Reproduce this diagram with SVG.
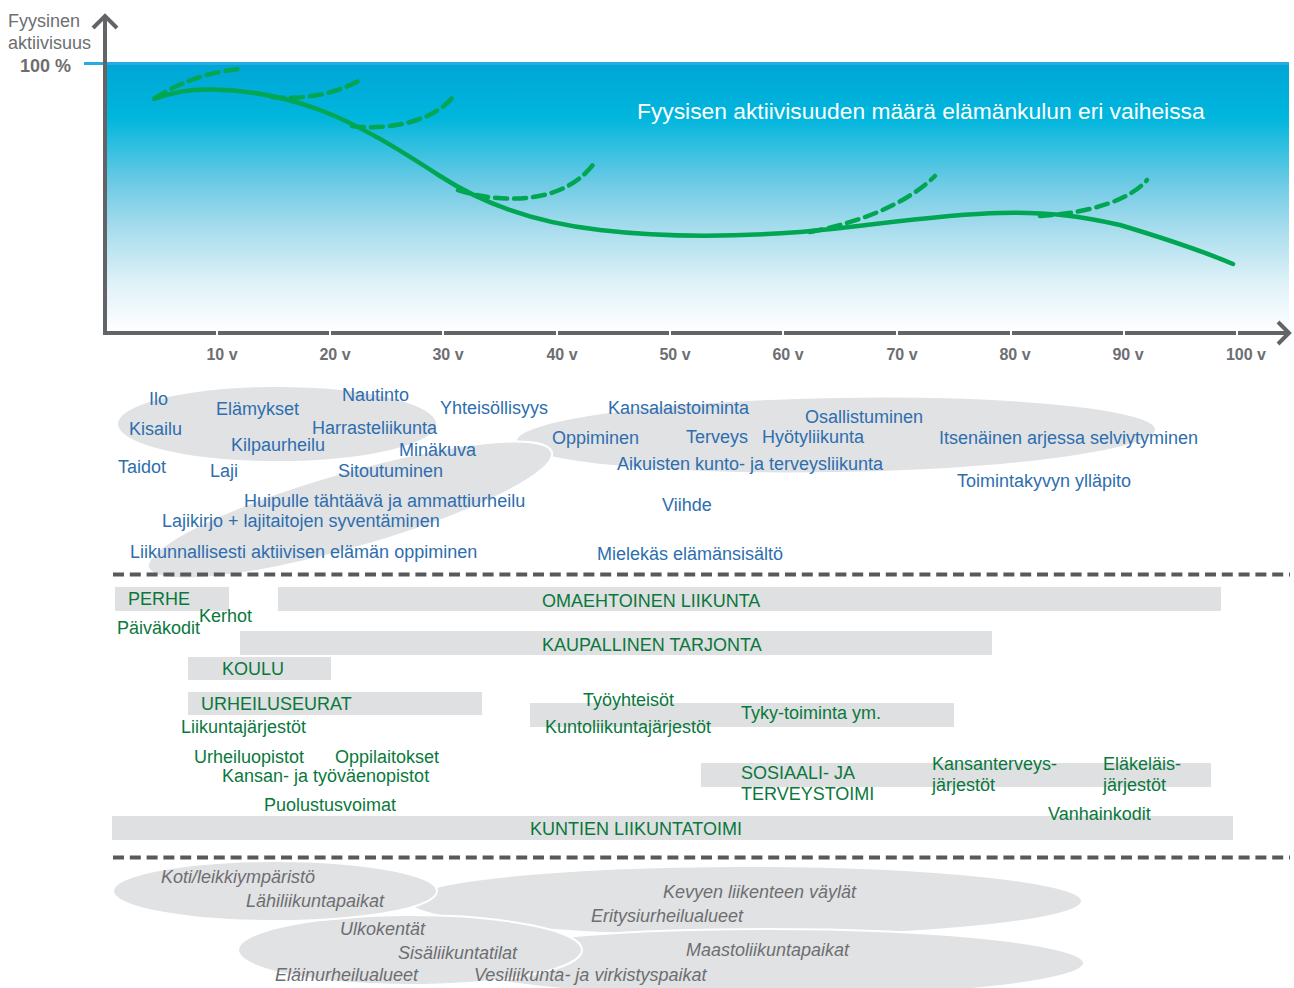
<svg xmlns="http://www.w3.org/2000/svg" width="1294" height="988" viewBox="0 0 1294 988">
<defs>
<linearGradient id="sky" x1="0" y1="0" x2="0" y2="1">
<stop offset="0" stop-color="#00a6d6"/>
<stop offset="0.2" stop-color="#00b6dd"/>
<stop offset="0.45" stop-color="#6fcbe5"/>
<stop offset="0.62" stop-color="#a9dded"/>
<stop offset="0.82" stop-color="#dff2f8"/>
<stop offset="1" stop-color="#ffffff"/>
</linearGradient>
<style>
text{font-family:"Liberation Sans",Arial,sans-serif;font-size:18px}
.b{fill:#2e6eae}
.g{fill:#0a783c}
.i{fill:#6d6e71;font-style:italic}
.ax{fill:#6d6e71;font-weight:bold;font-size:16px;text-anchor:middle}
.yl{fill:#6d6e71}
.blob{fill:#e1e2e4;stroke:#ffffff;stroke-width:2}
.bar{fill:#dfe0e2}
.sep{stroke:#58595b;stroke-width:4;stroke-dasharray:11 5.8;fill:none}
.main{fill:none;stroke:#00a651;stroke-width:4.5;stroke-linecap:round}
.alt{fill:none;stroke:#00a651;stroke-width:4.5;stroke-dasharray:12 7;stroke-linecap:round}
.axis{fill:none;stroke:#636466;stroke-width:4}
</style>
</defs>
<rect width="1294" height="988" fill="#ffffff"/>

<g id="chart">
<rect x="105" y="64" width="1184" height="268" fill="url(#sky)"/>
<line x1="84" y1="63.5" x2="1289" y2="63.5" stroke="#27aae1" stroke-width="3"/>
<path class="axis" d="M105,333 V17 M93,28 L105,16 L117,28"/>
<path class="axis" d="M103,333 H1289 M1278,322 L1289,333 L1278,344"/>
<g fill="#ffffff">
<rect x="216" y="330" width="2" height="6"/>
<rect x="329" y="330" width="2" height="6"/>
<rect x="442" y="330" width="2" height="6"/>
<rect x="556" y="330" width="2" height="6"/>
<rect x="669" y="330" width="2" height="6"/>
<rect x="782" y="330" width="2" height="6"/>
<rect x="896" y="330" width="2" height="6"/>
<rect x="1010" y="330" width="2" height="6"/>
<rect x="1123" y="330" width="2" height="6"/>
<rect x="1236" y="330" width="2" height="6"/>
</g>
<text class="yl" x="8" y="27">Fyysinen</text>
<text class="yl" x="8" y="49">aktiivisuus</text>
<text class="yl" x="20" y="72" font-weight="bold">100 %</text>
<text x="637" y="119" fill="#ffffff" style="font-size:22.8px">Fyysisen aktiivisuuden määrä elämänkulun eri vaiheissa</text>
<text class="ax" x="222" y="359.5">10 v</text>
<text class="ax" x="335" y="359.5">20 v</text>
<text class="ax" x="448" y="359.5">30 v</text>
<text class="ax" x="562" y="359.5">40 v</text>
<text class="ax" x="675" y="359.5">50 v</text>
<text class="ax" x="788" y="359.5">60 v</text>
<text class="ax" x="902" y="359.5">70 v</text>
<text class="ax" x="1015" y="359.5">80 v</text>
<text class="ax" x="1128" y="359.5">90 v</text>
<text class="ax" x="1246" y="359.5">100 v</text>
</g>

<g id="connectors">
<path class="main" d="M154,99 C175,91 195,89 212,89.5 C250,90 285,97 320,110 C360,125 400,150 440,176 C480,202 530,222 600,230 C660,237 720,238 800,232 C860,227 940,214 1000,213 C1050,212 1080,216 1120,225 C1160,237 1200,250 1233,264"/>
<path class="alt" d="M155,98 C175,85 205,72 240,69"/>
<path class="alt" d="M272,97 C300,100 335,95 362,79"/>
<path class="alt" d="M352,126 C380,130 430,125 453,97"/>
<path class="alt" d="M458,190 C500,204 565,205 595,162"/>
<path class="alt" d="M810,232 C860,222 905,205 935,176"/>
<path class="alt" d="M1040,216 C1090,213 1130,200 1147,180"/>
</g>

<g id="values">
<ellipse class="blob" cx="277" cy="424" rx="160" ry="38"/>
<ellipse class="blob" cx="836" cy="435" rx="320" ry="38" transform="rotate(-1 836 435)"/>
<ellipse class="blob" cx="350" cy="510" rx="210" ry="38" transform="rotate(-16 350 510)"/>
<text class="b" x="149" y="405">Ilo</text>
<text class="b" x="216" y="415">Elämykset</text>
<text class="b" x="342" y="401">Nautinto</text>
<text class="b" x="440" y="414">Yhteisöllisyys</text>
<text class="b" x="129" y="435">Kisailu</text>
<text class="b" x="312" y="434">Harrasteliikunta</text>
<text class="b" x="231" y="451">Kilpaurheilu</text>
<text class="b" x="399" y="456">Minäkuva</text>
<text class="b" x="118" y="473">Taidot</text>
<text class="b" x="210" y="477">Laji</text>
<text class="b" x="338" y="477">Sitoutuminen</text>
<text class="b" x="244" y="507">Huipulle tähtäävä ja ammattiurheilu</text>
<text class="b" x="162" y="527">Lajikirjo + lajitaitojen syventäminen</text>
<text class="b" x="130" y="558">Liikunnallisesti aktiivisen elämän oppiminen</text>
<text class="b" x="608" y="414">Kansalaistoiminta</text>
<text class="b" x="805" y="423">Osallistuminen</text>
<text class="b" x="552" y="444">Oppiminen</text>
<text class="b" x="686" y="443">Terveys</text>
<text class="b" x="762" y="443">Hyötyliikunta</text>
<text class="b" x="939" y="444">Itsenäinen arjessa selviytyminen</text>
<text class="b" x="617" y="470">Aikuisten kunto- ja terveysliikunta</text>
<text class="b" x="957" y="487">Toimintakyvyn ylläpito</text>
<text class="b" x="662" y="511">Viihde</text>
<text class="b" x="597" y="560">Mielekäs elämänsisältö</text>
</g>

<line class="sep" x1="113" y1="574.5" x2="1290" y2="574.5"/>

<g id="actors">
<rect class="bar" x="115" y="587" width="114" height="24"/>
<rect class="bar" x="278" y="587" width="943" height="24"/>
<rect class="bar" x="240" y="631" width="752" height="24"/>
<rect class="bar" x="188" y="657" width="143" height="23"/>
<rect class="bar" x="188" y="692" width="294" height="23"/>
<rect class="bar" x="530" y="703" width="424" height="24"/>
<rect class="bar" x="701" y="763" width="510" height="24"/>
<rect class="bar" x="112" y="816" width="1121" height="24"/>
<text class="g" x="128" y="604.5">PERHE</text>
<text class="g" x="542" y="606.5">OMAEHTOINEN LIIKUNTA</text>
<text class="g" x="117" y="634">Päiväkodit</text>
<text class="g" x="199" y="622">Kerhot</text>
<text class="g" x="542" y="650.5">KAUPALLINEN TARJONTA</text>
<text class="g" x="222" y="675">KOULU</text>
<text class="g" x="201" y="710">URHEILUSEURAT</text>
<text class="g" x="181" y="733">Liikuntajärjestöt</text>
<text class="g" x="583" y="706">Työyhteisöt</text>
<text class="g" x="545" y="733">Kuntoliikuntajärjestöt</text>
<text class="g" x="741" y="719">Tyky-toiminta ym.</text>
<text class="g" x="194" y="762.5">Urheiluopistot</text>
<text class="g" x="335" y="762.5">Oppilaitokset</text>
<text class="g" x="222" y="782">Kansan- ja työväenopistot</text>
<text class="g" x="264" y="811">Puolustusvoimat</text>
<text class="g" x="741" y="779">SOSIAALI- JA</text>
<text class="g" x="741" y="800">TERVEYSTOIMI</text>
<text class="g" x="932" y="770">Kansanterveys-</text>
<text class="g" x="932" y="791">järjestöt</text>
<text class="g" x="1103" y="770">Eläkeläis-</text>
<text class="g" x="1103" y="791">järjestöt</text>
<text class="g" x="1048" y="820">Vanhainkodit</text>
<text class="g" x="530" y="834.5">KUNTIEN LIIKUNTATOIMI</text>
</g>

<line class="sep" x1="113" y1="857.5" x2="1290" y2="857.5"/>

<g id="places">
<ellipse class="blob" cx="745" cy="901" rx="337" ry="35"/>
<ellipse class="blob" cx="767" cy="963" rx="317" ry="34"/>
<ellipse class="blob" cx="410" cy="950" rx="172" ry="35"/>
<ellipse class="blob" cx="275" cy="891" rx="162" ry="30"/>
<text class="i" x="161" y="883">Koti/leikkiympäristö</text>
<text class="i" x="246" y="907">Lähiliikuntapaikat</text>
<text class="i" x="663" y="898">Kevyen liikenteen väylät</text>
<text class="i" x="591" y="922">Eritysiurheilualueet</text>
<text class="i" x="340" y="935">Ulkokentät</text>
<text class="i" x="398" y="959">Sisäliikuntatilat</text>
<text class="i" x="686" y="956">Maastoliikuntapaikat</text>
<text class="i" x="275" y="981">Eläinurheilualueet</text>
<text class="i" x="474" y="981">Vesiliikunta- ja virkistyspaikat</text>
</g>
</svg>
